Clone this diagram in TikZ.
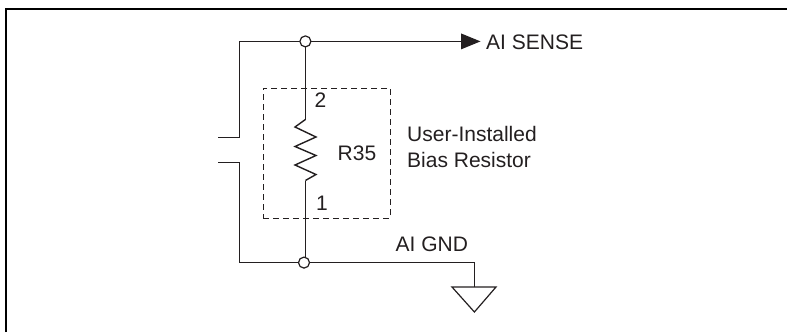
\documentclass[tikz,border=0pt]{standalone}
\usepackage{fontspec}
\setmainfont{Liberation Sans}
\definecolor{ink}{HTML}{231F20}
\tikzset{
  wire/.style={draw=ink,line width=1.4pt,line join=miter},
  junction/.style={circle,draw=ink,fill=white,line width=1.2pt,inner sep=0pt,minimum size=11pt},
  lbl/.style={anchor=base west,inner sep=0pt,text=ink,font=\fontsize{21pt}{26pt}\selectfont},
  bias/.style={draw=ink,dashed,dash pattern=on 6pt off 4pt,line width=1pt,inner sep=0pt,minimum width=127pt,minimum height=130pt},
  frameline/.style={draw=black,line width=2pt}
}
\begin{document}
\begin{tikzpicture}[x=1pt,y=-1pt]
\useasboundingbox (0,0) rectangle (787,332);
% frame
\coordinate (f1) at (6,332);
\coordinate (f2) at (6,9);
\coordinate (f3) at (787,9);
\draw[frameline] (f1) -- (f2) -- (f3);
% bias box
\node[bias] (box) at (326.5,153) {};
% connection points
\coordinate (topL) at (239.5,41.4);
\coordinate (gapT0) at (218,137.5);
\coordinate (gapT) at (239.5,137.5);
\coordinate (gapB0) at (218,162.6);
\coordinate (gapB) at (239.5,162.6);
\coordinate (botL) at (239.5,262.6);
\coordinate (gndC) at (474.4,262.6);
\coordinate (gndT) at (474.4,287);
\coordinate (r0) at (305.4,119.5);
\coordinate (r1) at (305.4,180.5);
\coordinate (wireB) at (305.4,262.6);
% resistor
\draw[wire] (r0) -- (295,127) -- (316,137) -- (295,146.5) -- (316,155.5) -- (295,165) -- (316,174.5) -- (r1);
% wires
\coordinate (arrowBase) at (461,41.4);
\draw[wire] (gapT0) -- (gapT) -- (topL) -- (arrowBase);
\draw[wire] (gapB0) -- (gapB) -- (botL) -- (gndC) -- (gndT);
\coordinate (topN) at (305.4,41.4);
\draw[wire] (topN) -- (r0);
\draw[wire] (r1) -- (wireB);
% junctions
\node[junction] (jt) at (305.4,41.4) {};
\node[junction] (jb) at (304,262.6) {};
% arrowhead
\coordinate (arrowTip) at (480.5,41.4);
\fill[ink] (arrowTip) -- (461,33.4) -- (461,49.4) -- cycle;
% ground
\draw[draw=ink,line width=1.2pt,line join=miter] (452,287) -- (496,287) -- (474.4,312) -- cycle;
% labels
\node[lbl] (sense) at (486,49.3) {AI SENSE};
\node[lbl] (user) at (407,141.7) {User-Installed};
\node[lbl] (biasl) at (407,167.7) {Bias Resistor};
\node[lbl] (rname) at (337.5,160) {R35};
\node[lbl] (two) at (314.5,107.7) {2};
\node[lbl] (one) at (316,210.7) {1};
\node[lbl] (gnd) at (395.5,251.7) {AI GND};
\end{tikzpicture}
\end{document}
